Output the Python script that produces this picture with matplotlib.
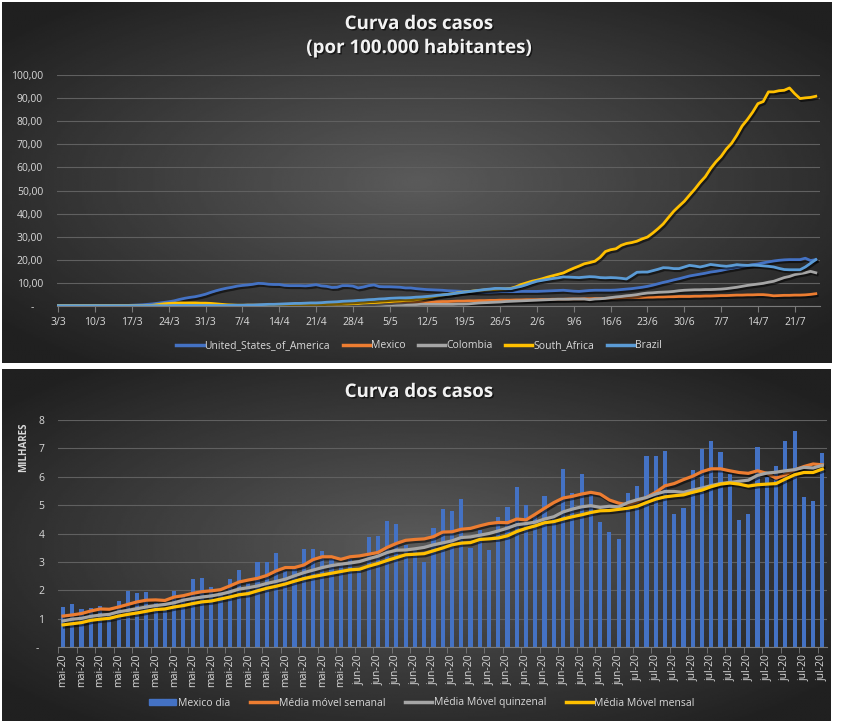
import numpy as np
import pandas as pd
import matplotlib
matplotlib.use("Agg")
import matplotlib.pyplot as plt
import matplotlib.patheffects as pe
from matplotlib.lines import Line2D
from matplotlib.patches import Patch

plt.rcParams['font.family'] = ['Open Sans', 'DejaVu Sans']

W, H = 841, 721

# ---- top chart: casos por 100.000 habitantes, 3/3 .. 25/7 ----
usa = [0.0, 0.0, 0.0, 0.0, 0.0, 0.0, 0.0, 0.0, 0.0, 0.0,
       0.0, 0.1, 0.1, 0.1, 0.2, 0.3, 0.4, 0.6, 0.8, 1.1,
       1.4, 1.7, 2.1, 2.7, 3.2, 3.6, 3.9, 4.4, 5.0, 5.8,
       6.5, 7.1, 7.6, 8.0, 8.5, 8.8, 9.0, 9.3, 9.7, 9.6,
       9.3, 9.2, 9.2, 8.8, 8.7, 8.7, 8.7, 8.6, 8.8, 9.1,
       8.6, 8.4, 7.9, 8.0, 8.7, 8.7, 8.5, 7.7, 8.1, 8.7,
       9.0, 8.3, 8.2, 8.2, 8.1, 8.0, 7.7, 7.7, 7.4, 7.2,
       7.0, 6.9, 6.8, 6.7, 6.5, 6.4, 6.3, 6.2, 6.1, 6.0,
       5.9, 5.9, 5.9, 6.0, 6.1, 6.1, 6.1, 6.1, 6.2, 6.2,
       6.2, 6.2, 6.3, 6.4, 6.5, 6.6, 6.7, 6.5, 6.3, 6.2,
       6.4, 6.6, 6.7, 6.7, 6.7, 6.7, 6.8, 7.0, 7.2, 7.4,
       7.7, 8.0, 8.4, 8.9, 9.5, 10.1, 10.6, 11.2, 11.7, 12.3,
       12.9, 13.3, 13.7, 14.1, 14.6, 14.9, 15.3, 15.8, 16.2, 16.6,
       17.0, 17.4, 17.8, 18.1, 18.6, 19.0, 19.4, 19.7, 19.9, 20.0,
       20.0, 20.0, 20.6, 19.6, 20.0]

mexico = [0.0] * 20 + [
       0.0, 0.0, 0.0, 0.0, 0.0, 0.1, 0.1, 0.1, 0.1, 0.1,
       0.1, 0.1, 0.1, 0.1, 0.1, 0.1, 0.2, 0.2, 0.2, 0.2,
       0.2, 0.2, 0.3, 0.3, 0.3, 0.3, 0.3, 0.4, 0.4, 0.4,
       0.5, 0.5, 0.5, 0.6, 0.6, 0.7, 0.7, 0.8, 0.8, 0.9,
       1.0, 1.0, 1.1, 1.1, 1.2, 1.2, 1.3, 1.3, 1.4, 1.5,
       1.6, 1.6, 1.7, 1.8, 1.8, 1.9, 2.0, 2.0, 2.1, 2.1,
       2.2, 2.2, 2.3, 2.3, 2.4, 2.4, 2.4, 2.5, 2.5, 2.6,
       2.6, 2.6, 2.7, 2.7, 2.8, 2.8, 2.8, 2.9, 2.9, 2.9,
       3.0, 3.0, 3.1, 3.1, 3.2, 3.3, 3.3, 3.4, 3.5, 3.5,
       3.6, 3.6, 3.7, 3.7, 3.8, 3.8, 3.9, 3.9, 4.0, 4.0,
       4.0, 4.1, 4.1, 4.2, 4.2, 4.3, 4.4, 4.4, 4.5, 4.6,
       4.6, 4.7, 4.7, 4.8, 4.8, 4.6, 4.3, 4.4, 4.5, 4.5,
       4.6, 4.6, 4.7, 4.9, 5.2]

colombia = [0.0] * 30 + [
       0.0, 0.0, 0.0, 0.0, 0.0, 0.1, 0.1, 0.1, 0.1, 0.1,
       0.1, 0.1, 0.1, 0.1, 0.1, 0.2, 0.2, 0.2, 0.2, 0.2,
       0.2, 0.2, 0.3, 0.3, 0.3, 0.3, 0.3, 0.3, 0.4, 0.4,
       0.4, 0.4, 0.4, 0.4, 0.5, 0.5, 0.5, 0.5, 0.5, 0.6,
       0.6, 0.6, 0.6, 0.6, 0.6, 0.6, 0.7, 0.7, 0.8, 1.0,
       1.2, 1.3, 1.4, 1.5, 1.6, 1.8, 1.9, 2.0, 2.1, 2.2,
       2.3, 2.4, 2.5, 2.6, 2.7, 2.8, 2.8, 2.8, 2.9, 2.9,
       2.9, 2.6, 2.9, 3.0, 3.2, 3.5, 3.8, 4.0, 4.3, 4.5,
       4.8, 5.2, 5.5, 5.6, 5.8, 5.9, 6.0, 6.2, 6.5, 6.7,
       6.8, 6.9, 6.9, 7.0, 7.0, 7.1, 7.2, 7.4, 7.7, 8.0,
       8.4, 8.8, 9.1, 9.4, 9.7, 10.2, 10.6, 11.4, 12.2, 12.7,
       13.5, 13.9, 14.3, 14.9, 14.3]

south_africa = [0.0] * 10 + [
       0.0, 0.0, 0.0, 0.0, 0.0, 0.0, 0.0, 0.0, 0.2, 0.5,
       0.8, 1.0, 1.1, 1.2, 1.2, 1.2, 1.2, 1.1, 1.1, 1.0,
       0.8, 0.6, 0.4, 0.3, 0.2, 0.2, 0.2, 0.2, 0.2, 0.2,
       0.2, 0.2, 0.3, 0.3, 0.3, 0.3, 0.4, 0.4, 0.4, 0.5,
       0.5, 0.6, 0.7, 0.7, 0.8, 0.8, 0.9, 1.0, 1.2, 1.3,
       1.4, 1.5, 1.7, 1.8, 2.0, 2.1, 2.3, 2.4, 2.6, 2.9,
       3.3, 3.7, 4.2, 4.6, 4.9, 5.2, 5.6, 5.9, 6.1, 6.4,
       6.6, 6.8, 6.9, 7.0, 7.2, 7.3, 7.5, 8.2, 9.2, 9.9,
       10.6, 11.1, 11.7, 12.4, 13.0, 13.6, 14.2, 15.3, 16.3, 17.2,
       18.2, 18.7, 19.3, 21.0, 23.5, 24.3, 24.7, 26.2, 27.0, 27.4,
       28.0, 29.0, 29.8, 31.5, 33.4, 35.5, 38.3, 41.0, 43.2, 45.3,
       48.0, 50.6, 53.5, 56.0, 59.5, 62.4, 64.8, 68.0, 70.5, 74.0,
       78.0, 80.8, 84.0, 87.7, 88.6, 92.8, 92.8, 93.3, 93.5, 94.5,
       92.0, 89.9, 90.2, 90.4, 90.9]

brazil = [0.0] * 20 + [
       0.0, 0.0, 0.1, 0.1, 0.1, 0.1, 0.1, 0.1, 0.1, 0.1,
       0.1, 0.1, 0.1, 0.2, 0.2, 0.2, 0.3, 0.3, 0.4, 0.5,
       0.6, 0.6, 0.7, 0.8, 0.9, 1.0, 1.0, 1.1, 1.2, 1.2,
       1.3, 1.5, 1.6, 1.7, 1.9, 2.0, 2.1, 2.3, 2.4, 2.6,
       2.7, 2.9, 3.0, 3.2, 3.3, 3.4, 3.4, 3.5, 3.7, 3.8,
       4.0, 4.2, 4.5, 4.7, 4.9, 5.2, 5.5, 5.8, 6.1, 6.4,
       6.7, 7.0, 7.2, 7.5, 7.5, 7.4, 7.4, 7.9, 8.4, 9.1,
       9.9, 10.6, 11.0, 11.4, 11.8, 12.1, 12.5, 12.4, 12.3, 12.2,
       12.4, 12.6, 12.5, 12.2, 12.1, 12.2, 12.1, 11.9, 11.6, 13.0,
       14.5, 14.6, 14.6, 15.2, 15.8, 16.5, 16.4, 16.1, 16.1, 16.8,
       17.5, 17.2, 16.8, 17.3, 17.9, 17.6, 17.3, 17.1, 17.4, 17.8,
       17.6, 17.5, 17.6, 17.5, 17.3, 17.1, 16.8, 16.2, 15.7, 15.6,
       15.6, 15.6, 16.8, 18.4, 20.0]

top_ticklabels = ['3/3', '10/3', '17/3', '24/3', '31/3', '7/4', '14/4', '21/4',
                  '28/4', '5/5', '12/5', '19/5', '26/5', '2/6', '9/6', '16/6',
                  '23/6', '30/6', '7/7', '14/7', '21/7']

# ---- bottom chart: Mexico, casos diários (milhares), 1/5 .. 22/7 ----
mexico_dia = [1.41, 1.53, 1.34, 1.38, 1.45, 1.15, 1.62, 1.99, 1.92, 1.94,
              1.56, 1.35, 1.98, 1.85, 2.40, 2.44, 2.12, 1.95, 2.40, 2.72,
              2.27, 2.98, 2.98, 3.32, 2.68, 2.75, 3.46, 3.46, 3.39, 3.09,
              2.90, 3.10, 2.80, 3.88, 3.92, 4.45, 4.34, 3.60, 3.50, 3.00,
              4.20, 4.87, 4.80, 5.22, 3.49, 4.13, 3.42, 4.59, 4.94, 5.65,
              5.01, 4.60, 5.33, 4.50, 6.28, 5.44, 6.11, 5.35, 4.41, 4.06,
              3.81, 5.44, 5.68, 6.74, 6.74, 6.92, 4.69, 4.91, 6.25, 6.99,
              7.27, 6.88, 6.10, 4.48, 4.69, 7.06, 6.00, 6.39, 7.27, 7.62,
              5.29, 5.15, 6.85]

media_semanal = [1.09, 1.13, 1.18, 1.27, 1.34, 1.33, 1.41, 1.50, 1.59, 1.65,
                 1.66, 1.64, 1.76, 1.81, 1.89, 1.95, 1.98, 2.02, 2.15, 2.29,
                 2.36, 2.42, 2.52, 2.68, 2.80, 2.80, 2.89, 3.08, 3.18, 3.18,
                 3.09, 3.18, 3.21, 3.27, 3.33, 3.51, 3.65, 3.76, 3.79, 3.81,
                 3.89, 4.05, 4.06, 4.15, 4.18, 4.27, 4.35, 4.39, 4.38, 4.51,
                 4.48, 4.68, 4.89, 5.09, 5.25, 5.31, 5.39, 5.45, 5.39, 5.18,
                 5.07, 5.01, 5.12, 5.27, 5.45, 5.68, 5.76, 5.90, 6.02, 6.18,
                 6.28, 6.28, 6.21, 6.15, 6.12, 6.21, 6.12, 5.95, 6.07, 6.24,
                 6.36, 6.45, 6.42]

media_quinzenal = [0.92, 0.98, 1.01, 1.08, 1.12, 1.15, 1.24, 1.29, 1.35, 1.41,
                   1.46, 1.50, 1.56, 1.65, 1.71, 1.76, 1.80, 1.86, 1.94, 2.04,
                   2.09, 2.15, 2.24, 2.31, 2.39, 2.51, 2.62, 2.71, 2.80, 2.87,
                   2.92, 2.96, 3.01, 3.11, 3.20, 3.33, 3.41, 3.42, 3.46, 3.51,
                   3.60, 3.67, 3.74, 3.86, 3.88, 3.94, 4.00, 4.09, 4.19, 4.31,
                   4.35, 4.40, 4.51, 4.59, 4.76, 4.86, 4.94, 4.98, 4.92, 4.96,
                   4.94, 5.09, 5.19, 5.27, 5.39, 5.48, 5.48, 5.45, 5.53, 5.60,
                   5.69, 5.76, 5.80, 5.84, 5.88, 6.05, 6.13, 6.16, 6.21, 6.25,
                   6.33, 6.31, 6.40]

media_mensal = [0.78, 0.82, 0.86, 0.94, 0.98, 1.01, 1.09, 1.15, 1.20, 1.26,
                1.32, 1.34, 1.41, 1.46, 1.53, 1.59, 1.62, 1.69, 1.76, 1.84,
                1.88, 1.98, 2.07, 2.14, 2.22, 2.32, 2.41, 2.48, 2.54, 2.60,
                2.66, 2.72, 2.74, 2.85, 2.94, 3.05, 3.15, 3.25, 3.27, 3.29,
                3.39, 3.49, 3.60, 3.66, 3.68, 3.79, 3.81, 3.84, 3.92, 4.07,
                4.18, 4.27, 4.38, 4.42, 4.51, 4.59, 4.66, 4.74, 4.80, 4.81,
                4.85, 4.89, 4.96, 5.09, 5.21, 5.29, 5.33, 5.36, 5.45, 5.53,
                5.65, 5.74, 5.78, 5.74, 5.67, 5.72, 5.74, 5.76, 5.92, 6.07,
                6.15, 6.15, 6.27]

meses = {5: 'mai', 6: 'jun', 7: 'jul'}

TXT = '#D9D9D9'
GRID = '#606060'
AXIS = '#7a7a7a'
shadow = [pe.SimpleLineShadow(offset=(1, -1.5), shadow_color='black', alpha=0.55),
          pe.Normal()]
title_fx = [pe.withSimplePatchShadow(offset=(1, -1), shadow_rgbFace='black', alpha=0.6)]


def px_axes(x0, y0, x1, y1, **kw):
    'Adds axes given a box in pixels (origin top-left).'
    return fig.add_axes([x0 / W, 1 - y1 / H, (x1 - x0) / W, (y1 - y0) / H], **kw)


def panel_background(x0, y0, x1, y1):
    ax = px_axes(x0, y0, x1, y1, zorder=0)
    ax.axis('off')
    yy, xx = np.mgrid[-1:1:240j, -1:1:360j]
    r = np.clip(np.sqrt(xx ** 2 + yy ** 2) / 1.3, 0, 1)
    img = 0.355 * (1 - r) + 0.125 * r
    ax.imshow(img, cmap='gray', vmin=0, vmax=1, extent=[0, 1, 0, 1],
              aspect='auto', interpolation='bilinear')


def title(y, s):
    fig.text(419 / W, 1 - y / H, s, ha='center', va='center', fontsize=13.5,
             fontweight='bold', color='#F2F2F2', path_effects=title_fx)


fig = plt.figure(figsize=(W / 100, H / 100), dpi=100, facecolor='white')

panel_background(2, 2, 832, 363)
panel_background(2, 369, 831, 721)

# ---------------- top chart ----------------
ax1 = px_axes(57, 75.3, 820, 305.7, zorder=1)
ax1.set_facecolor('none')
days = np.arange(len(usa))
series = [('United_States_of_America', usa, '#4472C4'),
          ('Mexico', mexico, '#ED7D31'),
          ('Colombia', colombia, '#A5A5A5'),
          ('South_Africa', south_africa, '#FFC000'),
          ('Brazil', brazil, '#5B9BD5')]
for name, vals, col in series:
    ax1.plot(days, vals, color=col, lw=2.0, label=name,
             solid_joinstyle='round', path_effects=shadow, zorder=3)

ax1.set_xlim(-0.25, 144.8)
ax1.set_ylim(0, 100)
ax1.set_yticks(np.arange(0, 101, 10))
ax1.set_yticklabels(['-   '] + ['%d,00' % v for v in range(10, 101, 10)])
ax1.set_xticks(np.arange(0, 7 * len(top_ticklabels), 7))
ax1.set_xticklabels(top_ticklabels)
ax1.yaxis.grid(True, color=GRID, lw=0.8)
ax1.set_axisbelow(True)
for s in ['top', 'right', 'left']:
    ax1.spines[s].set_visible(False)
ax1.spines['bottom'].set_color(AXIS)
ax1.tick_params(axis='y', length=0, pad=10, labelcolor=TXT, labelsize=7.5)
ax1.tick_params(axis='x', length=4, color=AXIS, pad=4, labelcolor=TXT, labelsize=7.5)

title(24, 'Curva dos casos')
title(48, '(por 100.000 habitantes)')

h1 = [Line2D([0], [0], color=c, lw=2.5) for _, _, c in series]
fig.legend(h1, [n for n, _, _ in series], loc='center',
           bbox_to_anchor=(419 / W, 1 - 346 / H), ncol=5, frameon=False,
           fontsize=7.5, handlelength=2.6, handletextpad=0.1,
           columnspacing=1.2, labelcolor=TXT)

# ---------------- bottom chart ----------------
ax2 = px_axes(58.4, 420, 827, 647, zorder=1)
ax2.set_facecolor('none')
idx = np.arange(len(mexico_dia))
ax2.bar(idx, mexico_dia, width=0.45, color='#4472C4', zorder=2)
ax2.plot(idx, media_semanal, color='#ED7D31', lw=2.3, path_effects=shadow, zorder=3)
ax2.plot(idx, media_quinzenal, color='#A5A5A5', lw=2.3, path_effects=shadow, zorder=3)
ax2.plot(idx, media_mensal, color='#FFC000', lw=2.3, path_effects=shadow, zorder=3)

ax2.set_xlim(-0.5, len(mexico_dia) - 0.5)
ax2.set_ylim(0, 8)
ax2.set_yticks(np.arange(0, 9))
ax2.set_yticklabels(['-  '] + [str(v) for v in range(1, 9)])
datas = pd.date_range('2020-05-01', periods=len(mexico_dia))
ax2.set_xticks(idx[::2])
ax2.set_xticklabels([meses[d.month] + '-20' for d in datas[::2]], rotation=90)
ax2.set_xticks(np.arange(-0.5, len(mexico_dia), 2), minor=True)
ax2.yaxis.grid(True, color=GRID, lw=0.8)
ax2.set_axisbelow(True)
for s in ['top', 'right', 'left']:
    ax2.spines[s].set_visible(False)
ax2.spines['bottom'].set_color(AXIS)
ax2.tick_params(axis='y', length=0, pad=10, labelcolor=TXT, labelsize=7.5)
ax2.tick_params(axis='x', which='major', length=0, pad=5, labelcolor=TXT, labelsize=7.5)
ax2.tick_params(axis='x', which='minor', length=4, color=AXIS)

title(392, 'Curva dos casos')
fig.text(24 / W, 1 - 447 / H, 'MILHARES', ha='center', va='center', rotation=90,
         fontsize=7, fontweight='bold', color=TXT)

h2 = [Patch(color='#4472C4'),
      Line2D([0], [0], color='#ED7D31', lw=2.5),
      Line2D([0], [0], color='#A5A5A5', lw=2.5),
      Line2D([0], [0], color='#FFC000', lw=2.5)]
fig.legend(h2, ['Mexico dia', 'Média móvel semanal', 'Média Móvel quinzenal',
                'Média Móvel mensal'],
           loc='center', bbox_to_anchor=(422 / W, 1 - 703 / H), ncol=4,
           frameon=False, fontsize=7.5, handlelength=2.6, handleheight=0.5,
           handletextpad=0.15, columnspacing=1.9, labelcolor=TXT)

fig.savefig('out.png', dpi=100, facecolor='white')
